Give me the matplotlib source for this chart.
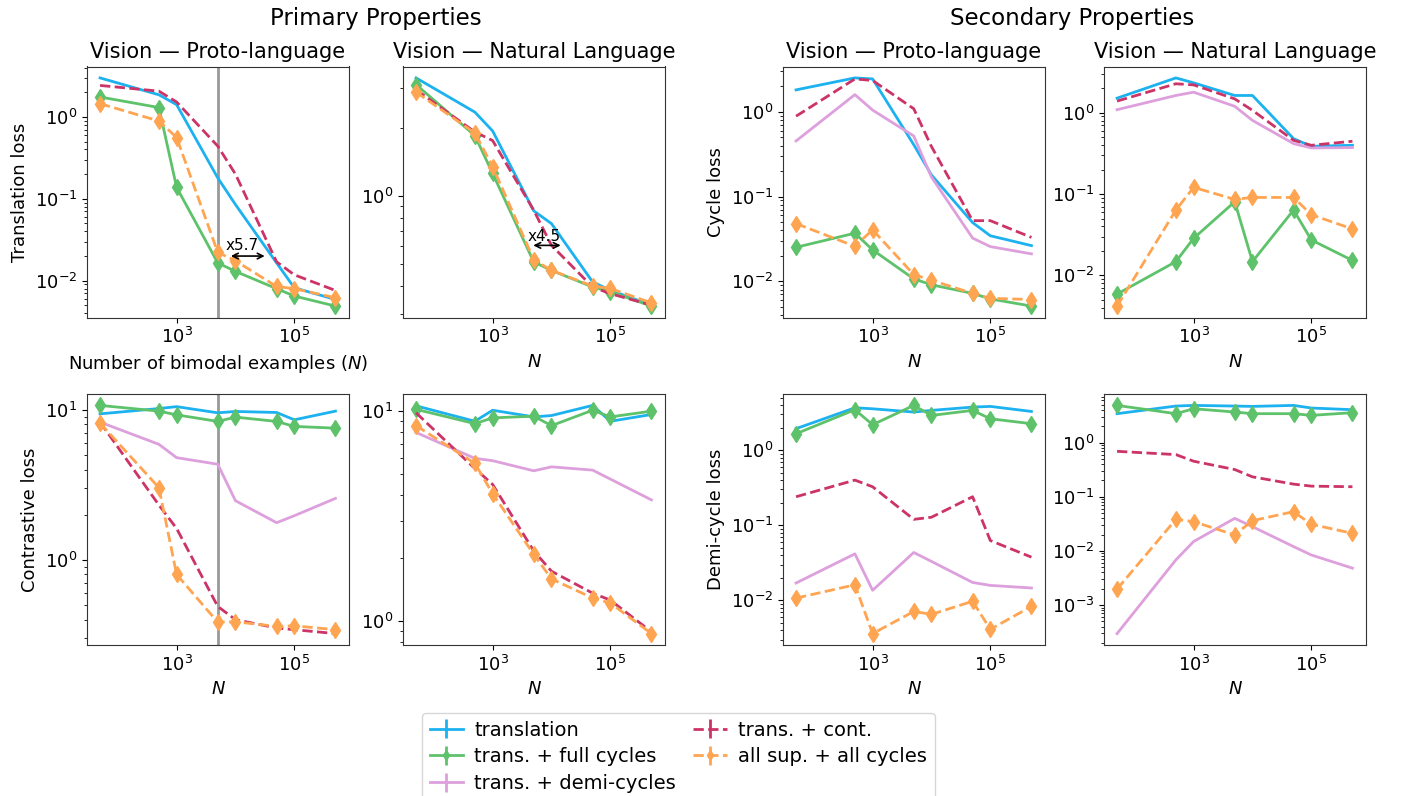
import numpy as np
import matplotlib
matplotlib.use('Agg')
import matplotlib.pyplot as plt
from matplotlib.ticker import NullFormatter, NullLocator, FixedLocator

# number of bimodal examples
n_examples = [50, 500, 1000, 5000, 10000, 50000, 100000, 500000]

series_names = ['translation', 'trans. + full cycles', 'trans. + demi-cycles',
                'trans. + cont.', 'all sup. + all cycles']

# --- Primary: translation loss ---
tr_proto = {
    'translation': [2.99, 1.86, 1.41, 0.18, 0.085, 0.0165, 0.0082, 0.0059],
    'trans. + full cycles': [1.75, 1.30, 0.138, 0.0165, 0.013, 0.0080, 0.0065, 0.0049],
    'trans. + cont.': [2.42, 2.06, 1.52, 0.44, 0.20, 0.0170, 0.0118, 0.0076],
    'all sup. + all cycles': [1.45, 0.89, 0.56, 0.0222, 0.0175, 0.0085, 0.0080, 0.0062],
}
tr_nat = {
    'translation': [3.33, 2.35, 1.94, 0.86, 0.755, 0.417, 0.383, 0.329],
    'trans. + full cycles': [3.11, 1.85, 1.26, 0.511, 0.469, 0.396, 0.377, 0.326],
    'trans. + cont.': [2.95, 1.92, 1.76, 0.865, 0.605, 0.396, 0.37, 0.329],
    'all sup. + all cycles': [2.88, 1.90, 1.35, 0.523, 0.469, 0.40, 0.39, 0.337],
}
# --- Primary: contrastive loss ---
ct_proto = {
    'translation': [9.4, 10.2, 10.5, 9.55, 9.75, 9.6, 8.58, 9.8],
    'trans. + full cycles': [10.7, 9.8, 9.26, 8.37, 8.94, 8.37, 7.75, 7.55],
    'trans. + demi-cycles': [8.28, 5.89, 4.8, 4.34, 2.48, 1.77, 1.97, 2.57],
    'trans. + cont.': [8.28, 2.32, 1.62, 0.49, 0.40, 0.352, 0.343, 0.323],
    'all sup. + all cycles': [8.16, 3.03, 0.80, 0.385, 0.387, 0.361, 0.364, 0.343],
}
ct_nat = {
    'translation': [10.6, 8.95, 10.1, 9.39, 9.53, 10.65, 8.95, 9.64],
    'trans. + full cycles': [10.2, 8.72, 9.29, 9.46, 8.53, 10.1, 9.39, 10.0],
    'trans. + demi-cycles': [7.92, 5.96, 5.81, 5.2, 5.43, 5.24, 4.75, 3.78],
    'trans. + cont.': [9.82, 5.33, 4.48, 2.16, 1.73, 1.36, 1.26, 0.89],
    'all sup. + all cycles': [8.53, 5.64, 4.05, 2.08, 1.59, 1.29, 1.22, 0.873],
}
# --- Secondary: cycle loss ---
cy_proto = {
    'translation': [1.82, 2.52, 2.45, 0.41, 0.18, 0.0494, 0.0345, 0.0264],
    'trans. + full cycles': [0.0252, 0.037, 0.0235, 0.0107, 0.0091, 0.0072, 0.0062, 0.0051],
    'trans. + demi-cycles': [0.454, 1.6, 1.05, 0.52, 0.17, 0.0324, 0.0257, 0.0211],
    'trans. + cont.': [0.89, 2.45, 2.35, 1.09, 0.39, 0.052, 0.052, 0.033],
    'all sup. + all cycles': [0.048, 0.0259, 0.0406, 0.012, 0.0103, 0.0072, 0.0063, 0.0061],
}
cy_nat = {
    'translation': [1.51, 2.68, 2.33, 1.63, 1.63, 0.48, 0.387, 0.398],
    'trans. + full cycles': [0.0059, 0.0148, 0.0286, 0.0805, 0.0148, 0.0637, 0.0273, 0.0153],
    'trans. + demi-cycles': [1.09, 1.63, 1.79, 1.2, 0.805, 0.417, 0.369, 0.373],
    'trans. + cont.': [1.39, 2.27, 2.2, 1.48, 1.07, 0.458, 0.398, 0.446],
    'all sup. + all cycles': [0.0042, 0.0637, 0.121, 0.086, 0.091, 0.091, 0.0558, 0.0373],
}
# --- Secondary: demi-cycle loss ---
dc_proto = {
    'translation': [1.94, 3.68, 3.57, 3.23, 3.4, 3.76, 3.84, 3.29],
    'trans. + full cycles': [1.66, 3.47, 2.19, 3.96, 2.91, 3.4, 2.63, 2.26],
    'trans. + demi-cycles': [0.017, 0.0416, 0.0136, 0.0434, 0.033, 0.0173, 0.0158, 0.0146],
    'trans. + cont.': [0.24, 0.40, 0.326, 0.12, 0.128, 0.24, 0.0626, 0.0376],
    'all sup. + all cycles': [0.0107, 0.0161, 0.0036, 0.0071, 0.0065, 0.0097, 0.0041, 0.0083],
}
dc_nat = {
    'translation': [3.42, 4.73, 4.86, 4.73, 4.66, 4.86, 4.35, 4.05],
    'trans. + full cycles': [4.86, 3.42, 4.22, 3.67, 3.42, 3.42, 3.18, 3.57],
    'trans. + demi-cycles': [0.000297, 0.00683, 0.0149, 0.0399, 0.028, 0.012, 0.0084, 0.0048],
    'trans. + cont.': [0.69, 0.60, 0.453, 0.318, 0.233, 0.171, 0.157, 0.153],
    'all sup. + all cycles': [0.00197, 0.0383, 0.0347, 0.0197, 0.0362, 0.053, 0.031, 0.0211],
}

styles = {
    'translation': dict(color='#1cb1ef', ls='-', marker=None, ms=0),
    'trans. + full cycles': dict(color='#5ec26b', ls='-', marker='d', ms=8),
    'trans. + demi-cycles': dict(color='#dda0dd', ls='-', marker=None, ms=0),
    'trans. + cont.': dict(color='#cc3366', ls='--', marker=None, ms=0),
    'all sup. + all cycles': dict(color='#ffa552', ls='--', marker='d', ms=8.5),
}

fig = plt.figure(figsize=(14.06, 7.96), dpi=100)

W, H = 1406, 796
lefts = [87, 403, 783, 1104]
tops = [66.5, 394]
aw, ah = 262, 251

panels = [
    [tr_proto, tr_nat, cy_proto, cy_nat],
    [ct_proto, ct_nat, dc_proto, dc_nat],
]
titles = ['Vision — Proto-language', 'Vision — Natural Language',
          'Vision — Proto-language', 'Vision — Natural Language']
ylabels = {(0, 0): 'Translation loss', (1, 0): 'Contrastive loss',
           (0, 2): 'Cycle loss', (1, 2): 'Demi-cycle loss'}

handles = {}
axes = {}
for r in range(2):
    for c in range(4):
        ax = fig.add_axes([lefts[c] / W, 1 - (tops[r] + ah) / H, aw / W, ah / H])
        axes[(r, c)] = ax
        data = panels[r][c]
        for name in series_names:
            if name not in data:
                continue
            st = styles[name]
            vals = np.array(data[name])
            h = ax.errorbar(n_examples, vals, yerr=np.zeros_like(vals), color=st['color'],
                            ls=st['ls'], lw=2, marker=st['marker'], ms=st['ms'],
                            label=name, elinewidth=2)
            handles[name] = h
        ax.set_xscale('log')
        ax.set_yscale('log')
        ax.xaxis.set_major_locator(FixedLocator([1e3, 1e5]))
        ax.xaxis.set_minor_locator(NullLocator())
        ax.yaxis.set_minor_formatter(NullFormatter())
        ax.set_xlim(30, 8.5e5)
        ax.tick_params(labelsize=13)
        for s in ax.spines.values():
            s.set_color('#333333')
        if r == 0:
            ax.set_title(titles[c], fontsize=15)
        if (r, c) in ylabels:
            ax.set_ylabel(ylabels[(r, c)], fontsize=13)
        if (r, c) == (0, 0):
            ax.set_xlabel('Number of bimodal examples ($N$)', fontsize=13)
        else:
            ax.set_xlabel('$N$', fontsize=13)

# vertical line at 5000 examples
for r in range(2):
    axes[(r, 0)].axvline(5000, color='#999999', lw=2, zorder=0)

# data-efficiency arrows
ax = axes[(0, 0)]
ax.annotate('', xy=(3.5e4, 0.02), xytext=(7.5e3, 0.02),
            arrowprops=dict(arrowstyle='<->', color='black', lw=1.2))
ax.text(6.8e3, 0.0215, 'x5.7', fontsize=11, ha='left', va='bottom')

ax = axes[(0, 1)]
ax.annotate('', xy=(1.6e4, 0.605), xytext=(4.4e3, 0.605),
            arrowprops=dict(arrowstyle='<->', color='black', lw=1.2))
ax.text(4.0e3, 0.615, 'x4.5', fontsize=11, ha='left', va='bottom')

fig.text(376 / W, 1 - 18 / H, 'Primary Properties', fontsize=16.5, ha='center', va='center')
fig.text(1072 / W, 1 - 18 / H, 'Secondary Properties', fontsize=16.5, ha='center', va='center')

fig.legend([handles[n] for n in series_names], series_names, ncol=2,
           loc='upper left', bbox_to_anchor=(412 / W, 1 - 703 / H),
           fontsize=14, frameon=True, columnspacing=0.9, labelspacing=0.4,
           handlelength=1.7, handletextpad=0.6, markerscale=0.6)

fig.savefig('out.png', dpi=100)
